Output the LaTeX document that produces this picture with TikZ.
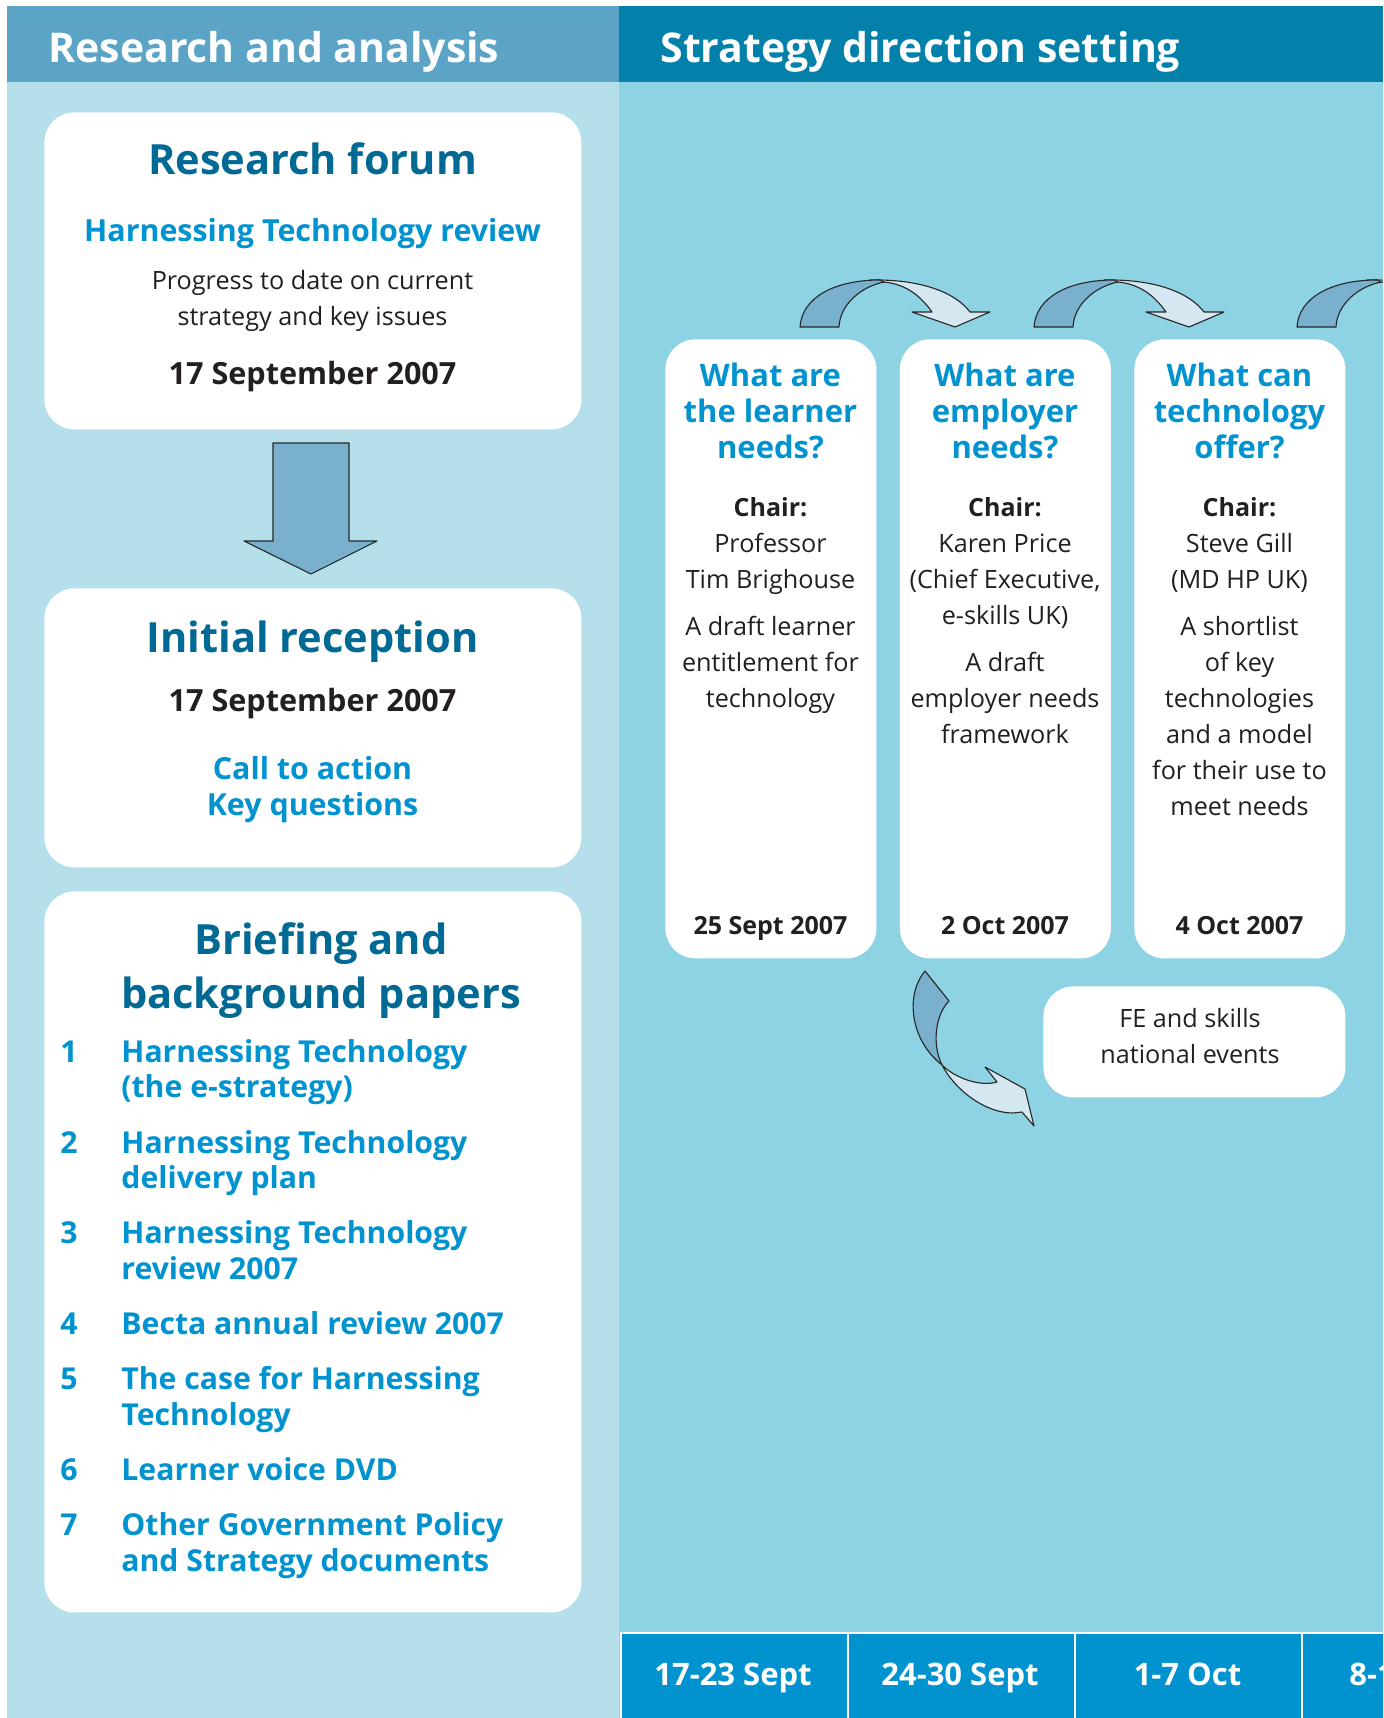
\documentclass[tikz,border=0pt]{standalone}
\usepackage{fontspec}
\setmainfont{Open Sans}
\definecolor{hdrL}{HTML}{5BA4C6}
\definecolor{hdrR}{HTML}{0381AB}
\definecolor{bgL}{HTML}{B4DFEB}
\definecolor{bgR}{HTML}{8ED3E3}
\definecolor{barc}{HTML}{0093CF}
\definecolor{dkblue}{HTML}{006A94}
\definecolor{ltblue}{HTML}{0093D0}
\definecolor{arrD}{HTML}{78B0CE}
\definecolor{arrL}{HTML}{D5E7F1}
\definecolor{txt}{HTML}{231F20}
\tikzset{
  hdr/.style={text=white, font=\fontsize{20.5}{25}\selectfont\bfseries, inner sep=0pt},
  ttl/.style={text=dkblue, font=\fontsize{20.8}{27}\selectfont\bfseries, inner sep=0pt, anchor=base},
  sub/.style={text=ltblue, font=\fontsize{15.2}{18}\selectfont\bfseries, inner sep=0pt, anchor=base},
  body/.style={text=txt, font=\fontsize{12.6}{18}\selectfont, inner sep=0pt, anchor=base},
  bdate/.style={text=txt, font=\fontsize{15.3}{18}\selectfont\bfseries, inner sep=0pt, anchor=base},
  qtl/.style={text=ltblue, font=\fontsize{15.5}{18}\selectfont\bfseries, inner sep=0pt, anchor=base},
  chair/.style={text=txt, font=\fontsize{12.5}{18}\selectfont\bfseries, inner sep=0pt, anchor=base},
  item/.style={text=ltblue, font=\fontsize{15.1}{18}\selectfont\bfseries, inner sep=0pt, anchor=base west},
  wk/.style={text=white, font=\fontsize{15.5}{18}\selectfont\bfseries, inner sep=0pt, anchor=base},
  wbox/.style={fill=white, rounded corners=15pt, inner sep=0pt, anchor=north west},
  cell/.style={fill=barc, draw=white, line width=0.8pt, inner sep=0pt, anchor=north west,
               minimum width=113.5pt, minimum height=44pt},
  arrline/.style={draw=black!85, line width=0.55pt, line join=round},
  toparr/.pic={
    \filldraw[arrline, fill=arrL] (70,-47) .. controls (120,-48) and (155,-35) .. (170,-15)
      -- (190,-15) -- (155,0) -- (112,-15) -- (132,-15)
      .. controls (120,-32) and (105,-43) .. (84,-45) -- cycle;
    \filldraw[arrline, fill=arrD] (0,0) .. controls (2,-30) and (35,-47) .. (80,-47)
      -- (84,-45) .. controls (60,-40) and (40,-22) .. (39,0) -- cycle;
  }
}
\begin{document}
\begin{tikzpicture}[x=0.5pt, y=-0.5pt]
\useasboundingbox (0,0) rectangle (1383,1718);
\clip (0,0) rectangle (1383,1718);
\fill[white] (0,0) rectangle (1383,1718);
% panels
\fill[bgL] (7,6) rectangle (619,1718);
\fill[bgR] (619,6) rectangle (1383,1718);
\fill[hdrL] (7,6) rectangle (619,82);
\fill[hdrR] (619,6) rectangle (1383,82);
\node[hdr, anchor=base west] (hL) at (48,63) {Research and analysis};
\node[hdr, anchor=base west] (hR) at (660,63) {Strategy direction setting};

% left boxes
\node[wbox, minimum width=268.5pt, minimum height=158.5pt] (rf) at (44,112) {};
\node[wbox, minimum width=268.5pt, minimum height=139.5pt] (ir) at (44,588) {};
\node[wbox, minimum width=268.5pt, minimum height=360.5pt] (bp) at (44,891) {};

% down arrow
\filldraw[arrline, fill=arrD] (273,443) -- (349,443) -- (349,541) -- (377,541) -- (311,574)
  -- (244,541) -- (273,541) -- cycle;

% Research forum text
\node[ttl] (rf1) at (312.5,175) {Research forum};
\node[sub] (rf2) at (312.5,241) {Harnessing Technology review};
\node[body] (rf3) at (312.5,289) {Progress to date on current};
\node[body] (rf4) at (312.5,325) {strategy and key issues};
\node[bdate] (rf5) at (312.5,384) {17 September 2007};

% Initial reception text
\node[ttl] (ir1) at (312.5,652) {Initial reception};
\node[bdate] (ir2) at (312.5,711) {17 September 2007};
\node[sub] (ir3) at (312.5,779) {Call to action};
\node[sub] (ir4) at (312.5,815) {Key questions};

% Briefing text
\node[ttl] (bp1) at (321,954) {Briefing and};
\node[ttl] (bp2) at (321,1008) {background papers};
\node[item] (n1) at (60,1062) {1};
\node[item] (t1a) at (121,1062) {Harnessing Technology};
\node[item] (t1b) at (121,1097) {(the e-strategy)};
\node[item] (n2) at (60,1153) {2};
\node[item] (t2a) at (121,1153) {Harnessing Technology};
\node[item] (t2b) at (121,1188) {delivery plan};
\node[item] (n3) at (60,1243) {3};
\node[item] (t3a) at (121,1243) {Harnessing Technology};
\node[item] (t3b) at (121,1279) {review 2007};
\node[item] (n4) at (60,1334) {4};
\node[item] (t4a) at (121,1334) {Becta annual review 2007};
\node[item] (n5) at (60,1389) {5};
\node[item] (t5a) at (121,1389) {The case for Harnessing};
\node[item] (t5b) at (121,1425) {Technology};
\node[item] (n6) at (60,1480) {6};
\node[item] (t6a) at (121,1480) {Learner voice DVD};
\node[item] (n7) at (60,1535) {7};
\node[item] (t7a) at (121,1535) {Other Government Policy};
\node[item] (t7b) at (121,1571) {and Strategy documents};

% right boxes
\node[wbox, minimum width=105.5pt, minimum height=309.5pt] (q1) at (665,339) {};
\node[wbox, minimum width=105.5pt, minimum height=309.5pt] (q2) at (899.5,339) {};
\node[wbox, minimum width=105.5pt, minimum height=309.5pt] (q3) at (1134,339) {};
\node[wbox, minimum width=151pt, minimum height=55.5pt] (fe) at (1043,986) {};

% top curved arrows
\pic (ca1) at (800,327) {toparr};
\pic (ca2) at (1034,327) {toparr};
\pic (ca3) at (1297,327) {toparr};

% lower curved arrow
\filldraw[arrline, fill=arrL] (942,1065) .. controls (955,1090) and (985,1113) .. (1013,1113)
  -- (1022,1112) -- (1034,1126) -- (1025,1089) -- (985,1067) -- (997,1082)
  .. controls (980,1087) and (955,1078) .. (942,1065) -- cycle;
\filldraw[arrline, fill=arrD] (925,971) -- (949,1001) .. controls (935,1015) and (932,1045) .. (942,1065)
  .. controls (910,1040) and (905,995) .. (925,971) -- cycle;

% box 1
\node[qtl] (q1a) at (770.5,386) {What are};
\node[qtl] (q1b) at (770.5,422) {the learner};
\node[qtl] (q1c) at (770.5,458) {needs?};
\node[chair] (q1d) at (770.5,516) {Chair:};
\node[body] (q1e) at (770.5,552) {Professor};
\node[body] (q1f) at (770.5,588) {Tim Brighouse};
\node[body] (q1g) at (770.5,635) {A draft learner};
\node[body] (q1h) at (770.5,671) {entitlement for};
\node[body] (q1i) at (770.5,707) {technology};
\node[chair] (q1j) at (770.5,934) {25 Sept 2007};

% box 2
\node[qtl] (q2a) at (1005,386) {What are};
\node[qtl] (q2b) at (1005,422) {employer};
\node[qtl] (q2c) at (1005,458) {needs?};
\node[chair] (q2d) at (1005,516) {Chair:};
\node[body] (q2e) at (1005,552) {Karen Price};
\node[body] (q2f) at (1005,588) {(Chief Executive,};
\node[body] (q2g) at (1005,624) {e-skills UK)};
\node[body] (q2h) at (1005,671) {A draft};
\node[body] (q2i) at (1005,707) {employer needs};
\node[body] (q2j) at (1005,743) {framework};
\node[chair] (q2k) at (1005,934) {2 Oct 2007};

% box 3
\node[qtl] (q3a) at (1239.5,386) {What can};
\node[qtl] (q3b) at (1239.5,422) {technology};
\node[qtl] (q3c) at (1239.5,458) {offer?};
\node[chair] (q3d) at (1239.5,516) {Chair:};
\node[body] (q3e) at (1239.5,552) {Steve Gill};
\node[body] (q3f) at (1239.5,588) {(MD HP UK)};
\node[body] (q3g) at (1239.5,635) {A shortlist};
\node[body] (q3h) at (1239.5,671) {of key};
\node[body] (q3i) at (1239.5,707) {technologies};
\node[body] (q3j) at (1239.5,743) {and a model};
\node[body] (q3k) at (1239.5,779) {for their use to};
\node[body] (q3l) at (1239.5,815) {meet needs};
\node[chair] (q3m) at (1239.5,934) {4 Oct 2007};

% FE box text
\node[body] (fe1) at (1190,1027) {FE and skills};
\node[body] (fe2) at (1190,1063) {national events};

% bottom week bar
\node[cell] (wk1) at (620,1632) {};
\node[cell] (wk2) at (847,1632) {};
\node[cell] (wk3) at (1074,1632) {};
\node[cell] (wk4) at (1301,1632) {};
\node[wk] (wt1) at (733,1685) {17-23 Sept};
\node[wk] (wt2) at (960,1685) {24-30 Sept};
\node[wk] (wt3) at (1187.5,1685) {1-7 Oct};
\node[wk] (wt4) at (1412,1685) {8-14 Oct};
\end{tikzpicture}
\end{document}
